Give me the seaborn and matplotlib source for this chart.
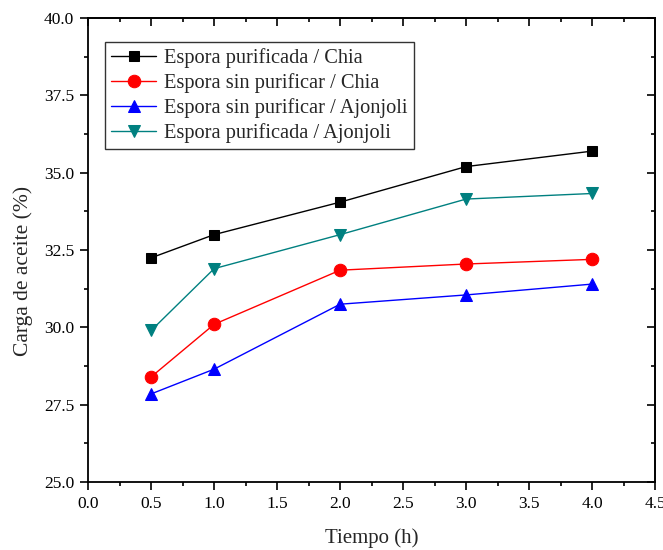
import matplotlib
matplotlib.use("Agg")
import matplotlib.pyplot as plt
import seaborn as sns
import pandas as pd
from matplotlib.ticker import MultipleLocator

tiempo = [0.5, 1.0, 2.0, 3.0, 4.0]
purificada_chia = [32.25, 33.0, 34.05, 35.2, 35.7]
sin_purificar_chia = [28.4, 30.1, 31.85, 32.05, 32.2]
sin_purificar_ajonjoli = [27.85, 28.65, 30.75, 31.05, 31.4]
purificada_ajonjoli = [29.9, 31.9, 33.0, 34.15, 34.33]

series_names = ["Espora purificada / Chia", "Espora sin purificar / Chia",
                "Espora sin purificar / Ajonjoli", "Espora purificada / Ajonjoli"]
series_values = [purificada_chia, sin_purificar_chia, sin_purificar_ajonjoli, purificada_ajonjoli]
colors = ["#000000", "#ff0000", "#0000ff", "#008080"]
markers = ["s", "o", "^", "v"]
msizes = [7.5, 9, 9, 9]

sns.set_theme(style="ticks")
plt.rcParams['font.family'] = ['Liberation Serif', 'DejaVu Serif']

fig = plt.figure(figsize=(6.63, 5.5), dpi=100)
ax = fig.add_axes([0.133, 0.1236, 0.855, 0.8434])

rows = []
for name, vals in zip(series_names, series_values):
    for t, v in zip(tiempo, vals):
        rows.append({"Tiempo": t, "Carga": v, "Serie": name})
df = pd.DataFrame(rows)

for name, c, m, ms in zip(series_names, colors, markers, msizes):
    sns.lineplot(data=df[df["Serie"] == name], x="Tiempo", y="Carga", ax=ax,
                 color=c, marker=m, markersize=ms, markeredgecolor=c,
                 linewidth=1.0, label=name)

ax.set_xlim(0, 4.5)
ax.set_ylim(25, 40)
ax.xaxis.set_major_locator(MultipleLocator(0.5))
ax.xaxis.set_minor_locator(MultipleLocator(0.25))
ax.yaxis.set_major_locator(MultipleLocator(2.5))
ax.yaxis.set_minor_locator(MultipleLocator(1.25))
ax.xaxis.set_major_formatter(matplotlib.ticker.FormatStrFormatter('%.1f'))
ax.yaxis.set_major_formatter(matplotlib.ticker.FormatStrFormatter('%.1f'))

# outward ticks on bottom/left
ax.tick_params(which='both', direction='out', labelsize=12.5, colors='black', width=1.2, pad=4)
ax.tick_params(which='major', length=6)
ax.tick_params(which='minor', length=3)

# inward mirror ticks on top/right
ax_top = ax.secondary_xaxis('top')
ax_top.xaxis.set_major_locator(MultipleLocator(0.5))
ax_top.xaxis.set_minor_locator(MultipleLocator(0.25))
ax_top.tick_params(which='both', direction='in', labeltop=False, width=1.2, colors='black')
ax_top.tick_params(which='major', length=6)
ax_top.tick_params(which='minor', length=3)
ax_top.spines['top'].set_linewidth(1.3)
ax_right = ax.secondary_yaxis('right')
ax_right.yaxis.set_major_locator(MultipleLocator(2.5))
ax_right.yaxis.set_minor_locator(MultipleLocator(1.25))
ax_right.tick_params(which='both', direction='in', labelright=False, width=1.2, colors='black')
ax_right.tick_params(which='major', length=6)
ax_right.tick_params(which='minor', length=3)
ax_right.spines['right'].set_linewidth(1.3)

for s in ax.spines.values():
    s.set_linewidth(1.3)
    s.set_color('black')

ax.set_xlabel("Tiempo (h)", fontsize=15, labelpad=12)
ax.set_ylabel("Carga de aceite (%)", fontsize=15.5, labelpad=8)
ax.yaxis.label.set_y(0.455)

leg = ax.legend(loc='upper left', bbox_to_anchor=(0.03, 0.948), borderaxespad=0,
                fontsize=14.7, frameon=True,
                fancybox=False, edgecolor='black', handlelength=2.2, borderpad=0.3,
                labelspacing=0.25, handletextpad=0.4)
leg.get_frame().set_linewidth(1.0)

fig.savefig("out.png", dpi=100)
